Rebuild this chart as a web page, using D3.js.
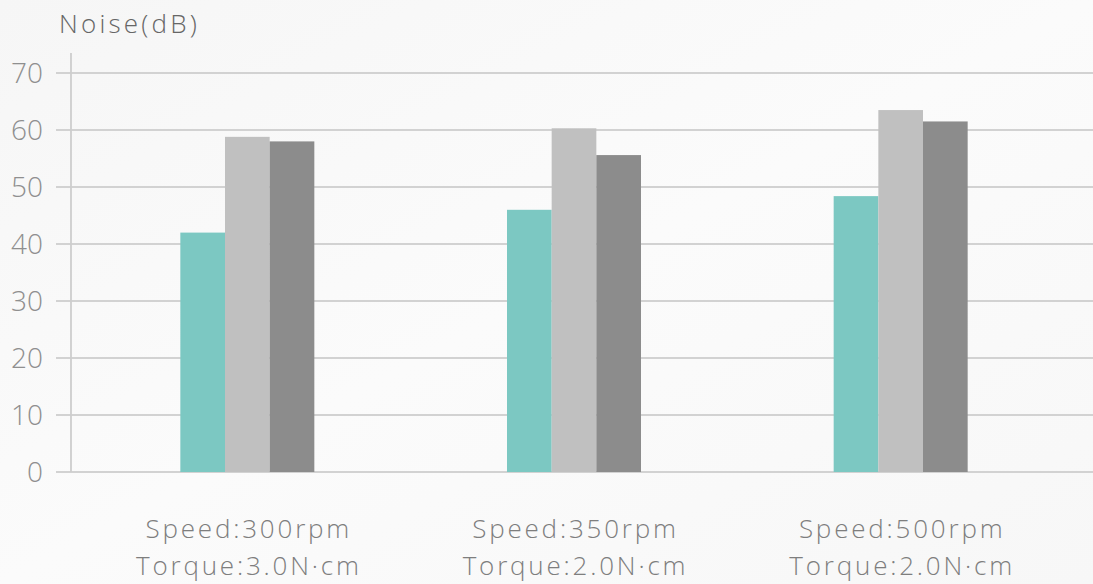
<!DOCTYPE html>
<html><head><meta charset="utf-8">
<script src="https://cdn.jsdelivr.net/npm/d3@7"></script>
<style>
html,body{margin:0;padding:0;background:#f9f9f9;}
svg{display:block;}
text{font-family:"Open Sans","Noto Sans",sans-serif;font-weight:300;}
</style></head>
<body>
<svg id="c" width="1093" height="584"></svg>
<script>
const categories = ["Speed:300rpm|Torque:3.0N·cm","Speed:350rpm|Torque:2.0N·cm","Speed:500rpm|Torque:2.0N·cm"];
const seriesNames = ["A","B","C"];
const seriesA = [42, 46, 48.4];
const seriesB = [58.8, 60.3, 63.5];
const seriesC = [58, 55.6, 61.5];
const yTicks = [0,10,20,30,40,50,60,70];
const colors = ["#7cc8c2","#c0c0c0","#8c8c8c"];

const svg = d3.select("#c");
const W = 1093, H = 584;
const defs = svg.append("defs");
const g0 = defs.append("linearGradient").attr("id","bg").attr("x1","0").attr("y1","0").attr("x2","1").attr("y2","1");
g0.append("stop").attr("offset","0").attr("stop-color","#f6f6f6");
g0.append("stop").attr("offset","0.5").attr("stop-color","#fbfbfb");
g0.append("stop").attr("offset","1").attr("stop-color","#f7f7f7");
svg.append("rect").attr("width",W).attr("height",H).attr("fill","url(#bg)");

const y = d3.scaleLinear().domain([0,70]).range([472,73]);
const x0 = d3.scaleBand().domain(categories).range([84,1064]).paddingInner(0).paddingOuter(0);
const x1 = d3.scaleBand().domain(seriesNames).range([0,134]);

// gridlines
svg.append("g").selectAll("line").data(yTicks).join("line")
  .attr("x1",56).attr("x2",W).attr("y1",d=>y(d)).attr("y2",d=>y(d))
  .attr("stroke","#d2d2d2").attr("stroke-width",1.8);
// vertical axis
svg.append("line").attr("x1",71).attr("x2",71).attr("y1",53).attr("y2",472)
  .attr("stroke","#cdcdcd").attr("stroke-width",1.8);

// y labels
svg.append("g").selectAll("text").data(yTicks).join("text")
  .attr("x",43).attr("y",d=>y(d)+10).attr("text-anchor","end")
  .attr("font-size",28).attr("fill","#8f8f8f").text(d=>d);

svg.append("text").attr("x",59).attr("y",33).attr("font-size",26).attr("fill","#666")
  .attr("letter-spacing",3.2).text("Noise(dB)");

const data = categories.map((c,i)=>({c, vals:[seriesA[i],seriesB[i],seriesC[i]]}));
const grp = svg.append("g").selectAll("g").data(data).join("g")
  .attr("transform",d=>`translate(${x0(d.c)+x0.bandwidth()/2-67},0)`);
grp.selectAll("rect").data(d=>d.vals.map((v,k)=>({k,v}))).join("rect")
  .attr("x",d=>x1(seriesNames[d.k])).attr("width",x1.bandwidth())
  .attr("y",d=>y(d.v)).attr("height",d=>y(0)-y(d.v))
  .attr("fill",d=>colors[d.k]);

// x labels
const lab = svg.append("g").selectAll("text").data(categories).join("text")
  .attr("text-anchor","middle").attr("font-size",26).attr("fill","#7e7e7e")
  .attr("letter-spacing",2.8);
lab.each(function(c){
  const t = d3.select(this); const cx = x0(c)+x0.bandwidth()/2 + 1.5;
  const parts = c.split("|");
  t.append("tspan").attr("x",cx).attr("y",538).text(parts[0]);
  t.append("tspan").attr("x",cx).attr("y",575).text(parts[1]);
});
</script>
</body></html>
